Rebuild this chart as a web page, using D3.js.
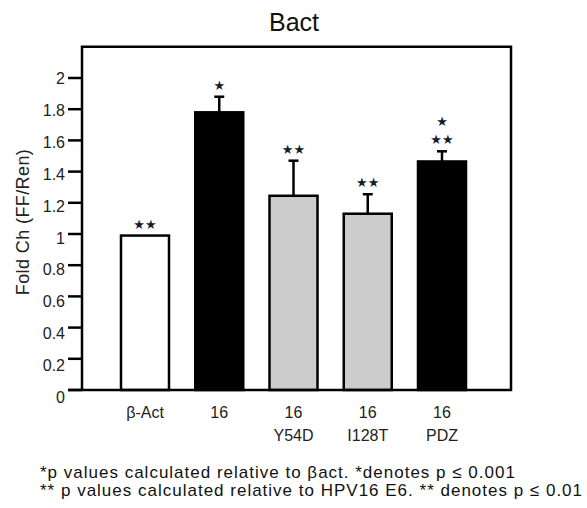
<!DOCTYPE html>
<html><head><meta charset="utf-8">
<script src="https://cdn.jsdelivr.net/npm/d3@7"></script>
<style>
html,body{margin:0;padding:0;background:#fff;}
text{font-family:"Liberation Sans",Arial,Helvetica,sans-serif;fill:#111;}
</style></head>
<body>
<svg id="chart" width="587" height="508"></svg>
<script>
// ---- data ----
const categories = ["β-Act", "16", "16|Y54D", "16|I128T", "16|PDZ"];
const values = [0.99, 1.78, 1.245, 1.13, 1.465];
const errors = [0.0, 0.10, 0.225, 0.125, 0.065];
const fills = ["#ffffff", "#000000", "#cccccc", "#cccccc", "#000000"];
const stars = [["**"], ["*"], ["**"], ["**"], ["**", "*"]];
const yTicks = [0, 0.2, 0.4, 0.6, 0.8, 1, 1.2, 1.4, 1.6, 1.8, 2];
const yTickLabels = ["0", "0.2", "0.4", "0.6", "0.8", "1", "1.2", "1.4", "1.6", "1.8", "2"];
const title = "Bact";
const yLabel = "Fold Ch (FF/Ren)";
const footnotes = [
  "*p values calculated relative to βact. *denotes p ≤ 0.001",
  "** p values calculated relative to HPV16 E6. ** denotes p ≤ 0.01"
];

// ---- layout ----
const svg = d3.select("#chart");
const plotLeft = 82, plotRight = 511;
const y = d3.scaleLinear().domain([0, 2]).range([390, 78]);
const yLab = d3.scaleLinear().domain([0, 2]).range([397, 78.5]);
const x = d3.scalePoint().domain(categories).range([145, 442]);
const barW = 48;
const sw = 2.5;
const plotTop = y(2.2);

// title
svg.append("text").attr("x", 294).attr("y", 31).attr("text-anchor", "middle")
  .style("font-size", "25px").text(title);

// y label
svg.append("text").attr("transform", "translate(29,222) rotate(-90)")
  .attr("text-anchor", "middle").style("font-size", "18px").style("letter-spacing", "0.4px")
  .style("fill", "#222").text(yLabel);

// bars
const g = svg.append("g");
g.selectAll("rect.bar").data(values).join("rect").attr("class", "bar")
  .attr("x", (d, i) => x(categories[i]) - barW / 2)
  .attr("width", barW)
  .attr("y", d => y(d))
  .attr("height", d => y(0) - y(d))
  .attr("fill", (d, i) => fills[i])
  .attr("stroke", "#000").attr("stroke-width", sw);

// error bars
values.forEach((v, i) => {
  if (errors[i] <= 0) return;
  const cx = x(categories[i]);
  g.append("line").attr("x1", cx).attr("x2", cx).attr("y1", y(v)).attr("y2", y(v + errors[i]))
    .attr("stroke", "#000").attr("stroke-width", sw);
  g.append("line").attr("x1", cx - 5).attr("x2", cx + 5).attr("y1", y(v + errors[i])).attr("y2", y(v + errors[i]))
    .attr("stroke", "#000").attr("stroke-width", sw);
});

// significance stars
values.forEach((v, i) => {
  const cx = x(categories[i]);
  const base = y(v + errors[i]) - 7;
  stars[i].forEach((s, k) => {
    svg.append("text").attr("x", cx).attr("y", base - k * 18)
      .attr("text-anchor", "middle")
      .style("font-family", "DejaVu Sans").style("font-size", "13px")
      .style("fill", "#1a1a2e")
      .text(s.replace(/\*/g, "★"));
  });
});

// frame
svg.append("path")
  .attr("d", `M${plotLeft},${y(0)}V${plotTop}H${plotRight}V${y(0)}H${plotLeft - 14}`)
  .attr("fill", "none").attr("stroke", "#000").attr("stroke-width", sw);

// y ticks
svg.selectAll("line.tick").data(yTicks).join("line").attr("class", "tick")
  .attr("x1", plotLeft - 14).attr("x2", plotLeft).attr("y1", d => y(d)).attr("y2", d => y(d))
  .attr("stroke", "#000").attr("stroke-width", sw);
svg.selectAll("text.tl").data(yTicks).join("text").attr("class", "tl")
  .attr("x", 65).attr("y", d => yLab(d)).attr("dy", "0.36em").attr("text-anchor", "end")
  .style("font-size", "16px").style("fill", "#222").text((d, i) => yTickLabels[i]);

// x labels
categories.forEach(c => {
  const lines = c.split("|");
  lines.forEach((t, k) => {
    svg.append("text").attr("x", x(c)).attr("y", 418 + k * 23).attr("text-anchor", "middle")
      .style("font-size", "16px").style("fill", "#222").text(t);
  });
});

// footnotes
footnotes.forEach((t, k) => {
  svg.append("text").attr("x", 40).attr("y", 478 + k * 17.5)
    .style("font-size", "17px").style("letter-spacing", "1px").text(t);
});
</script>
</body></html>
